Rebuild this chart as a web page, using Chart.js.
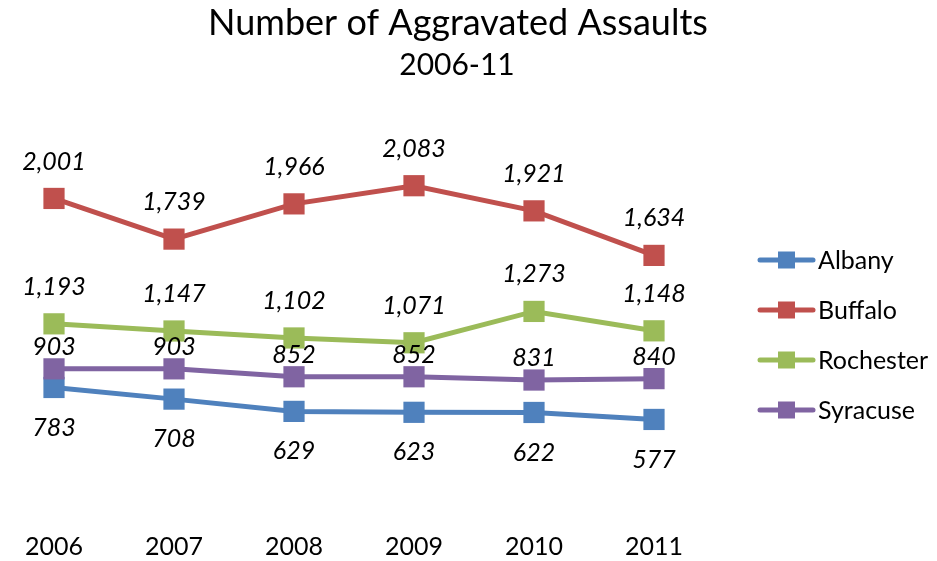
<!DOCTYPE html>
<html>
<head>
<meta charset="utf-8">
<script src="https://cdn.jsdelivr.net/npm/chart.js@4"></script>
<style>
  html, body { margin: 0; padding: 0; background: #fff; }
  #wrap { width: 937px; height: 561px; }
</style>
</head>
<body>
<div id="wrap"><canvas id="assaults"></canvas></div>
<script>
  const years = ['2006', '2007', '2008', '2009', '2010', '2011'];
  const cities = ['Albany', 'Buffalo', 'Rochester', 'Syracuse'];
  const albany = [783, 708, 629, 623, 622, 577];
  const buffalo = [2001, 1739, 1966, 2083, 1921, 1634];
  const rochester = [1193, 1147, 1102, 1071, 1273, 1148];
  const syracuse = [903, 903, 852, 852, 831, 840];
  const colors = ['#4F81BD', '#C0504D', '#9BBB59', '#8064A2'];
  // how far the value label sits from its marker (negative = above)
  const labelShift = [40, -37, -37, -22];

  const FONT = 'Lato, Carlito, Calibri, sans-serif';

  // title is centred on the whole picture, not on the plot area
  const headline = {
    id: 'headline',
    afterDraw(chart) {
      const ctx = chart.ctx;
      ctx.save();
      ctx.fillStyle = '#000';
      ctx.textAlign = 'center';
      ctx.textBaseline = 'alphabetic';
      ctx.font = '36px ' + FONT;
      ctx.fillText('Number of Aggravated Assaults', 458, 35);
      ctx.font = '30px ' + FONT;
      ctx.fillText('2006-11', 457, 75);
      ctx.restore();
    }
  };

  const valueLabels = {
    id: 'valueLabels',
    afterDatasetsDraw(chart) {
      const ctx = chart.ctx;
      ctx.save();
      ctx.font = 'italic 25px ' + FONT;
      ctx.fillStyle = '#000';
      ctx.textAlign = 'center';
      ctx.textBaseline = 'middle';
      chart.data.datasets.forEach((ds, i) => {
        chart.getDatasetMeta(i).data.forEach((pt, j) => {
          ctx.fillText(ds.data[j].toLocaleString('en-US'), pt.x, pt.y + labelShift[i]);
        });
      });
      ctx.restore();
    }
  };

  const sideLegend = {
    id: 'sideLegend',
    afterDraw(chart) {
      const ctx = chart.ctx;
      ctx.save();
      ctx.font = '25px ' + FONT;
      ctx.textBaseline = 'middle';
      ctx.textAlign = 'left';
      chart.data.datasets.forEach((ds, i) => {
        const y = 260 + i * 50;
        ctx.strokeStyle = ds.borderColor;
        ctx.lineWidth = 5;
        ctx.lineCap = 'round';
        ctx.beginPath();
        ctx.moveTo(760, y);
        ctx.lineTo(813, y);
        ctx.stroke();
        ctx.fillStyle = ds.borderColor;
        ctx.fillRect(778, y - 8.5, 17, 17);
        ctx.fillStyle = '#000';
        ctx.fillText(ds.label, 818, y + 1);
      });
      ctx.restore();
    }
  };

  const series = [albany, buffalo, rochester, syracuse];

  new Chart(document.getElementById('assaults'), {
    type: 'line',
    data: {
      labels: years,
      datasets: series.map((vals, i) => ({
        label: cities[i],
        data: vals,
        borderColor: colors[i],
        backgroundColor: colors[i],
        borderWidth: 5,
        pointStyle: 'rect',
        pointRadius: 15,
        pointBorderWidth: 0,
        pointHoverRadius: 15,
        tension: 0,
        order: 4 - i
      }))
    },
    options: {
      responsive: true,
      maintainAspectRatio: false,
      animation: false,
      layout: { padding: { left: 47, right: 283, top: 121, bottom: 0 } },
      plugins: {
        legend: { display: false },
        tooltip: { enabled: false }
      },
      scales: {
        x: {
          offset: false,
          grid: { display: false, drawTicks: false },
          border: { display: false },
          ticks: {
            color: '#000',
            padding: 25,
            font: { family: FONT, size: 25, lineHeight: 1.0 }
          },
          afterFit(scale) { scale.height = 52; }
        },
        y: {
          display: false,
          min: 0,
          max: 2500
        }
      }
    },
    plugins: [valueLabels, sideLegend, headline]
  });
</script>
</body>
</html>
